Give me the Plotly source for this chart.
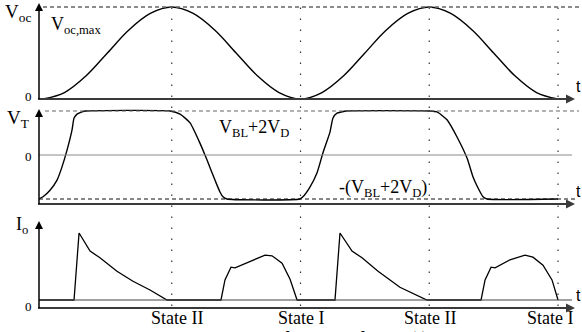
import plotly.graph_objects as go

# ---------------- data (phase in degrees; 0..360 spans the plotted time) ----------------
voc_phase = [0, 15, 30, 45, 60, 75, 90, 105, 120, 135, 150, 165, 180,
             195, 210, 225, 240, 255, 270, 285, 300, 315, 330, 345, 360]
voc_values = [0.0, 0.07, 0.25, 0.5, 0.75, 0.93, 1.0, 0.93, 0.75, 0.5, 0.25, 0.07, 0.0,
              0.07, 0.25, 0.5, 0.75, 0.93, 1.0, 0.93, 0.75, 0.5, 0.25, 0.07, 0.0]

vt_phase = [-2.8, 0.0, 4.9, 9.8, 13.3, 16.8, 20.3, 21.7, 23.8, 27.3, 30.0,
            88.8, 95.8, 102.8, 109.7, 114.6, 120.2, 123.7, 125.8, 128.6,
            179.6, 181.7, 186.6, 191.5, 195.7, 200.6, 202.7, 205.5, 209.0, 211.8,
            270.5, 275.4, 282.4, 289.4, 296.4, 300.6, 304.1, 307.6, 310.4, 360.0]
vt_values = [-1.0, -0.95, -0.8, -0.57, -0.27, 0.11, 0.57, 0.84, 0.93, 0.98, 1.0,
             1.0, 0.93, 0.73, 0.27, -0.11, -0.57, -0.84, -0.95, -1.0,
             -1.0, -0.95, -0.73, -0.41, 0.05, 0.52, 0.84, 0.95, 0.98, 1.0,
             1.0, 0.98, 0.8, 0.41, -0.07, -0.5, -0.75, -0.95, -1.0, -1.0]

io_phase = [-2.8, 21.7, 25.2, 32.9, 39.8, 51.7, 62.9, 74.8, 86.7,
            124.4, 127.2, 131.4, 134.2, 144.7, 155.2, 160.1, 167.1, 172.7, 177.6,
            204.1, 207.6, 216.0, 223.0, 234.2, 249.5, 268.4,
            306.2, 309.0, 313.2, 316.0, 326.4, 336.9, 342.5, 349.5, 355.8, 360.0]
io_values = [0.0, 0.0, 1.0, 0.73, 0.63, 0.43, 0.28, 0.15, 0.0,
             0.0, 0.3, 0.49, 0.48, 0.58, 0.67, 0.66, 0.55, 0.31, 0.0,
             0.0, 1.0, 0.73, 0.63, 0.43, 0.19, 0.0,
             0.0, 0.3, 0.49, 0.48, 0.6, 0.67, 0.64, 0.52, 0.3, 0.0]

state_phase = [90, 180, 270, 360]
state_labels = ["State II", "State I", "State II", "State I"]

# ---------------- layout helpers ----------------
W, H = 582, 332
PXD = 1.4306          # px per degree
X0 = 43               # px of phase 0


def ph(px):
    return (px - X0) / PXD


panels = {  # name: (band top px, band bottom px, px of value 0, px per unit)
    "y": (0, 104, 99, 92),
    "y2": (104, 212, 155, 44),
    "y3": (212, 332, 300, 67),
}


def val(axis, px):
    top, bot, v0, s = panels[axis]
    return (v0 - px) / s


def yaxis_cfg(axis):
    top, bot, v0, s = panels[axis]
    return dict(domain=[1 - bot / H, 1 - top / H],
                range=[(v0 - bot) / s, (v0 - top) / s],
                visible=False, fixedrange=True)


SERIF = "Liberation Serif"
SANS = "Liberation Sans"
AX = "#3a3a3a"

fig = go.Figure()

fig.add_trace(go.Scatter(x=voc_phase, y=voc_values, yaxis="y", mode="lines",
                         line=dict(color="black", width=1.4, shape="spline", smoothing=1.0),
                         hoverinfo="skip"))
fig.add_trace(go.Scatter(x=vt_phase, y=vt_values, yaxis="y2", mode="lines",
                         line=dict(color="black", width=1.4, shape="spline", smoothing=0.5),
                         hoverinfo="skip"))
fig.add_trace(go.Scatter(x=io_phase, y=io_values, yaxis="y3", mode="lines",
                         line=dict(color="black", width=1.3),
                         hoverinfo="skip"))

shapes = []
annotations = []

# vertical dotted state lines
for p in state_phase:
    shapes.append(dict(type="line", xref="x", yref="paper", x0=p, x1=p,
                       y0=1 - 306 / H, y1=1 - 2 / H,
                       line=dict(color="#333333", width=1.2, dash="1.5px,9.5px")))

# dashed reference levels
shapes.append(dict(type="line", xref="x", yref="y", x0=ph(43), x1=ph(579), y0=1, y1=1,
                   line=dict(color="#666666", width=1.3, dash="4px,3px")))
shapes.append(dict(type="line", xref="x", yref="y2", x0=ph(45), x1=ph(579), y0=1, y1=1,
                   line=dict(color="#666666", width=1.2, dash="4px,3px")))
shapes.append(dict(type="line", xref="x", yref="y2", x0=ph(39), x1=ph(575), y0=-1, y1=-1,
                   line=dict(color="#111111", width=1.2, dash="4px,3px")))
# thin zero lines
shapes.append(dict(type="line", xref="x", yref="y2", x0=ph(39), x1=ph(572), y0=0, y1=0,
                   line=dict(color="#8a8a8a", width=1)))
shapes.append(dict(type="line", xref="x", yref="y3", x0=ph(39), x1=ph(572), y0=0, y1=0,
                   line=dict(color="#444444", width=1.2)))

# axes with arrows: lines as shapes, heads as arrow markers
axis_rows = [("y", 99, 3), ("y2", 204, 109), ("y3", 308, 221)]
zero_label_px = {"y": 96, "y2": 156, "y3": 306}
for ax, base_px, tip_px in axis_rows:
    yb = val(ax, base_px)
    shapes.append(dict(type="line", xref="x", yref=ax, x0=ph(38), x1=ph(566), y0=yb, y1=yb,
                       line=dict(color=AX, width=2.2)))
    shapes.append(dict(type="line", xref="x", yref=ax, x0=ph(39), x1=ph(39), y0=yb,
                       y1=val(ax, tip_px + 6), line=dict(color="black", width=1.5)))
    fig.add_trace(go.Scatter(x=[ph(575)], y=[yb], yaxis=ax, mode="markers",
                             marker=dict(symbol="arrow-right", size=9, color=AX,
                                         line=dict(width=0)),
                             hoverinfo="skip"))
    fig.add_trace(go.Scatter(x=[ph(39)], y=[val(ax, tip_px)], yaxis=ax, mode="markers",
                             marker=dict(symbol="arrow-up", size=8, color="black",
                                         line=dict(width=0)),
                             hoverinfo="skip"))
    annotations.append(dict(xref="x", yref=ax, x=ph(578), y=val(ax, base_px - 13),
                            text="t", showarrow=False, font=dict(family=SANS, size=16, color="black"),
                            xanchor="center", yanchor="middle"))
    annotations.append(dict(xref="x", yref=ax, x=ph(34), y=val(ax, zero_label_px[ax]),
                            text="0", showarrow=False, font=dict(family=SERIF, size=13, color="black"),
                            xanchor="right", yanchor="middle"))

texts = [
    ("y", 33, 13, "V<sub>oc</sub>", "right", 19),
    ("y", 49, 25, "V<sub>oc,max</sub>", "left", 18),
    ("y2", 31, 119, "V<sub>T</sub>", "right", 19),
    ("y2", 217, 128, "V<sub>BL</sub>+2V<sub>D</sub>", "left", 18),
    ("y2", 337, 188, "-(V<sub>BL</sub>+2V<sub>D</sub>)", "left", 18),
    ("y3", 30, 226, "I<sub>o</sub>", "right", 18),
]
for ax, xp, yp, t, anc, sz in texts:
    annotations.append(dict(xref="x", yref=ax, x=ph(xp), y=val(ax, yp), text=t,
                            showarrow=False, xanchor=anc, yanchor="middle",
                            font=dict(family=SERIF, size=sz, color="black")))

# state labels
state_offsets = [5, 1, 1, -8]
for p, lab, off in zip(state_phase, state_labels, state_offsets):
    annotations.append(dict(xref="x", yref="paper", x=p + off / PXD, y=1 - 318 / H,
                            text=lab, showarrow=False, xanchor="center", yanchor="middle",
                            font=dict(family=SERIF, size=18, color="black")))

# caption, cut off at the bottom edge as in the source
annotations.append(dict(xref="paper", yref="paper", x=22 / W, y=1 - 340 / H,
                        text="2.   Typical   simulation   waveforms   of   V<sub>oc</sub>(t)   in   FWBR",
                        showarrow=False, xanchor="left", yanchor="middle",
                        font=dict(family=SERIF, size=21, color="black")))

fig.update_layout(
    width=W, height=H,
    margin=dict(l=0, r=0, t=0, b=0),
    paper_bgcolor="white", plot_bgcolor="white",
    showlegend=False,
    xaxis=dict(range=[ph(0), ph(W)], visible=False, fixedrange=True),
    yaxis=yaxis_cfg("y"),
    yaxis2=yaxis_cfg("y2"),
    yaxis3=yaxis_cfg("y3"),
    shapes=shapes,
    annotations=annotations,
)

fig.write_html("out.html", config={"displayModeBar": False},
               post_script="document.body.style.margin='0px';document.body.style.overflow='hidden';")
